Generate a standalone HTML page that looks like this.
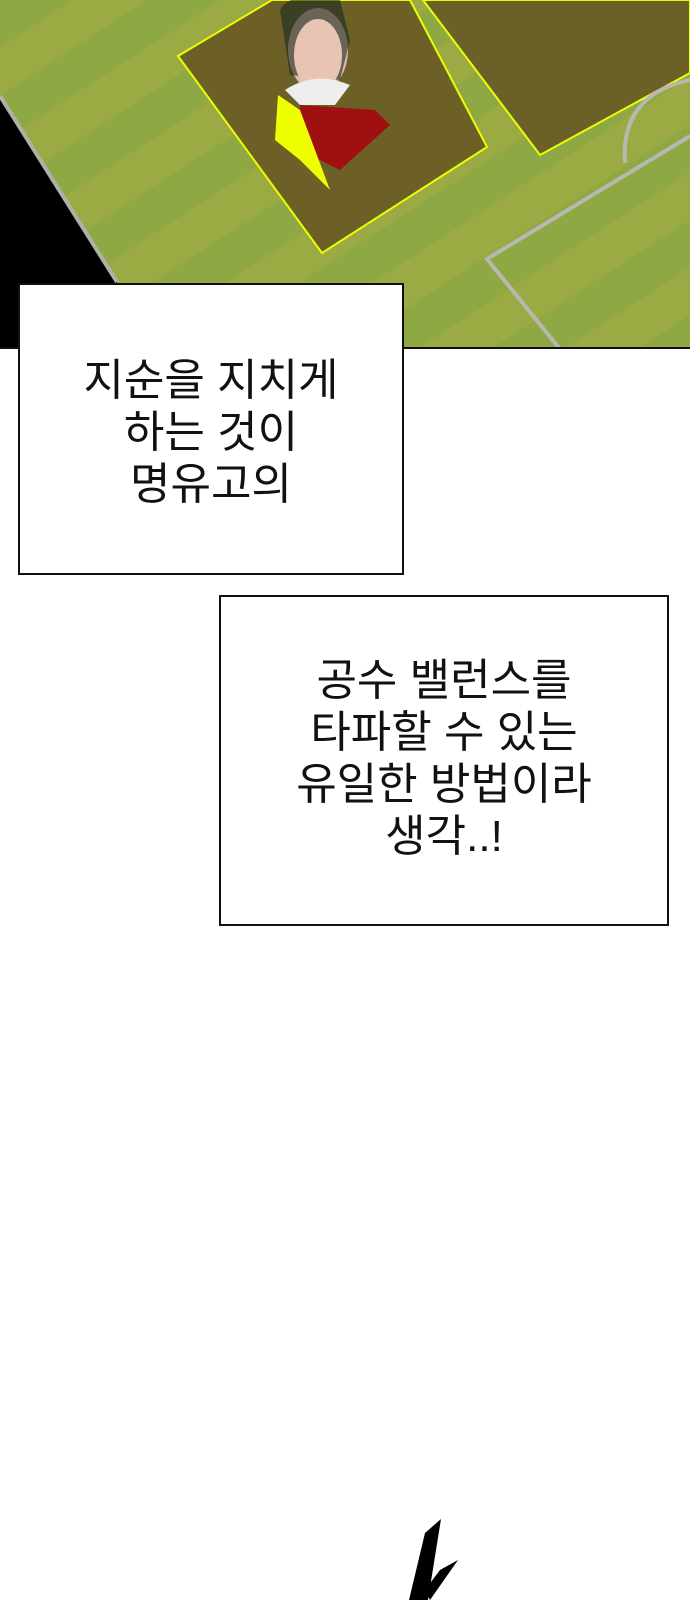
<!DOCTYPE html>
<html><head><meta charset="utf-8"><style>
html,body{margin:0;padding:0;background:#fff;}
body{width:690px;height:1600px;position:relative;overflow:hidden;font-family:"Liberation Sans","Noto Sans CJK KR","NanumGothic",sans-serif;}
.box{position:absolute;background:#fff;border:2px solid #111;box-sizing:border-box;}
.t{position:absolute;left:0;right:0;text-align:center;color:#111;white-space:nowrap;}
</style></head><body>
<svg width="690" height="348" style="position:absolute;left:0;top:0">
<defs>
<pattern id="st" width="80" height="80" patternUnits="userSpaceOnUse" patternTransform="rotate(-33)">
<rect width="80" height="40" fill="#8ea844"/><rect y="40" width="80" height="40" fill="#9caa44"/>
</pattern>
</defs>
<rect width="690" height="348" fill="url(#st)"/>
<polygon points="0,96 117,282 117,348 0,348" fill="#000"/>
<line x1="0" y1="96" x2="117" y2="282" stroke="#b0b0a8" stroke-width="4"/>
<polygon points="423,0 690,0 690,73 540,155" fill="#6b6128" stroke="#e8ff00" stroke-width="2"/>
<polygon points="178,56 272,0 410,0 487,147 322,253" fill="#6c6026" stroke="#e8ff00" stroke-width="2"/>
<polyline points="690,136 487,259 559,348" fill="none" stroke="#b8b8b0" stroke-width="4"/>
<path d="M625,163 Q620,95 690,80" fill="none" stroke="#b8b8b0" stroke-width="4"/>
<ellipse cx="318" cy="50" rx="30" ry="42" fill="#e0b8a8"/>
<path d="M280,10 Q290,-10 340,0 L350,40 L340,80 L290,75 Z" fill="#1b2a22" opacity="0.6"/>
<ellipse cx="318" cy="55" rx="24" ry="36" fill="#e8c4b4"/>
<path d="M285,90 Q315,70 350,85 L335,105 L300,105 Z" fill="#eee"/>
<path d="M300,105 L375,110 L390,125 L340,170 L300,150 Z" fill="#a01010"/>
<path d="M278,95 L300,110 L330,190 L300,160 L275,140 Z" fill="#f0ff00"/>
</svg>
<div style="position:absolute;left:0;top:347px;width:690px;height:2px;background:#111"></div>
<div class="box" style="left:18px;top:283px;width:386px;height:292px;">
<div class="t" style="top:70px;font-size:44px;line-height:52px;">지순을 지치게<br>하는 것이<br>명유고의</div>
</div>
<div class="box" style="left:219px;top:595px;width:450px;height:331px;">
<div class="t" style="top:58px;font-size:44px;line-height:52px;">공수 밸런스를<br>타파할 수 있는<br>유일한 방법이라<br>생각..!</div>
</div>
<svg width="690" height="120" style="position:absolute;left:0;top:1480px">
<polygon points="441,39 425,53 409,120 428,120" fill="#000"/>
<polygon points="458,80 440,90 425,110 430,120" fill="#000"/>
</svg>
</body></html>
